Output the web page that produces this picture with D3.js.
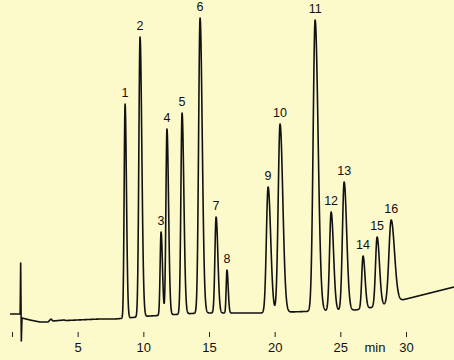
<!DOCTYPE html>
<html>
<head>
<meta charset="utf-8">
<script src="https://cdn.jsdelivr.net/npm/d3@7"></script>
<style>
  body { margin: 0; background: #fcf9cb; }
  svg { display: block; }
</style>
</head>
<body>
<svg id="chart" width="454" height="360"></svg>
<script>
// peak table
const peakLabels = ["1","2","3","4","5","6","7","8","9","10","11","12","13","14","15","16"];
const peakTimes  = [8.61, 9.75, 11.35, 11.80, 12.95, 14.32, 15.54, 16.37, 19.50, 20.41, 23.08, 24.30, 25.29, 26.73, 27.80, 28.87];
const peakApex   = [236, 303, 108, 211, 227, 322, 123, 70, 153, 216, 320, 128, 158, 84, 103, 120];
const peakWidths = [0.07, 0.09, 0.07, 0.08, 0.09, 0.11, 0.09, 0.06, 0.13, 0.14, 0.15, 0.12, 0.13, 0.10, 0.12, 0.17];

// baseline (time, signal) incl. injection spike
const baseTimes  = [-0.15, 0.62, 0.66, 0.71, 0.76, 1.37, 2.13, 2.74, 2.97, 3.12, 3.96, 4.11, 6.70, 7.84, 10.51, 14.32, 18.89, 23.46, 26.12, 27.65, 28.40, 29.40, 33.66];
const baseSignal = [26, 26, 77, -1, 22, 20, 18, 18, 21, 19, 20, 19.5, 21, 21, 24, 27, 27, 29, 30, 33, 35, 39, 53];

const tickValues = [0, 5, 10, 15, 20, 25, 30];

const svg = d3.select("#chart");

const x = d3.scaleLinear().domain([0, 30]).range([12, 406]);
const y = d3.scaleLinear().domain([0, 320]).range([340, 20]);

const baseline = d3.scaleLinear().domain(baseTimes).range(baseSignal).clamp(true);

function peakAt(t, i) {
  const dt = t - peakTimes[i];
  const s = dt < 0 ? peakWidths[i] : peakWidths[i] * 1.5;
  const h = peakApex[i] - baseline(peakTimes[i]);
  return h * Math.exp(-0.5 * (dt / s) * (dt / s));
}

// sample the trace; spike knots added so they are not skipped
let times = d3.range(-0.15, 33.66, 0.01).concat(baseTimes.slice(1, 5));
times.sort((a, b) => a - b);
const trace = times.map(t => {
  let v = baseline(t);
  peakTimes.forEach((p, i) => { v += peakAt(t, i); });
  return [t, v];
});

svg.append("path")
  .datum(trace)
  .attr("fill", "none")
  .attr("stroke", "#111")
  .attr("stroke-width", 1.6)
  .attr("stroke-linejoin", "round")
  .attr("d", d3.line().x(d => x(d[0])).y(d => y(d[1])));

// peak numbers
svg.selectAll("text.peak")
  .data(peakLabels)
  .join("text")
  .attr("class", "peak")
  .attr("x", (d, i) => x(peakTimes[i]))
  .attr("y", (d, i) => y(peakApex[i]) - 7)
  .attr("text-anchor", "middle")
  .attr("font-family", "Liberation Sans, Arial, sans-serif")
  .attr("font-size", 12.5)
  .attr("fill", "#111")
  .text(d => d);

// time axis: ticks only, no domain line
const axis = svg.append("g")
  .attr("transform", "translate(0,332)")
  .call(d3.axisBottom(x).tickValues(tickValues).tickSize(5).tickFormat(d => d === 0 ? "" : d));
axis.select(".domain").remove();
axis.selectAll("line").attr("stroke", "#222");
axis.selectAll("text")
  .attr("font-family", "Liberation Sans, Arial, sans-serif")
  .attr("font-size", 13)
  .attr("fill", "#111")
  .attr("dy", "0.9em");

svg.append("text")
  .attr("x", 375)
  .attr("y", 352)
  .attr("text-anchor", "middle")
  .attr("font-family", "Liberation Sans, Arial, sans-serif")
  .attr("font-size", 13)
  .attr("fill", "#111")
  .text("min");
</script>
</body>
</html>
